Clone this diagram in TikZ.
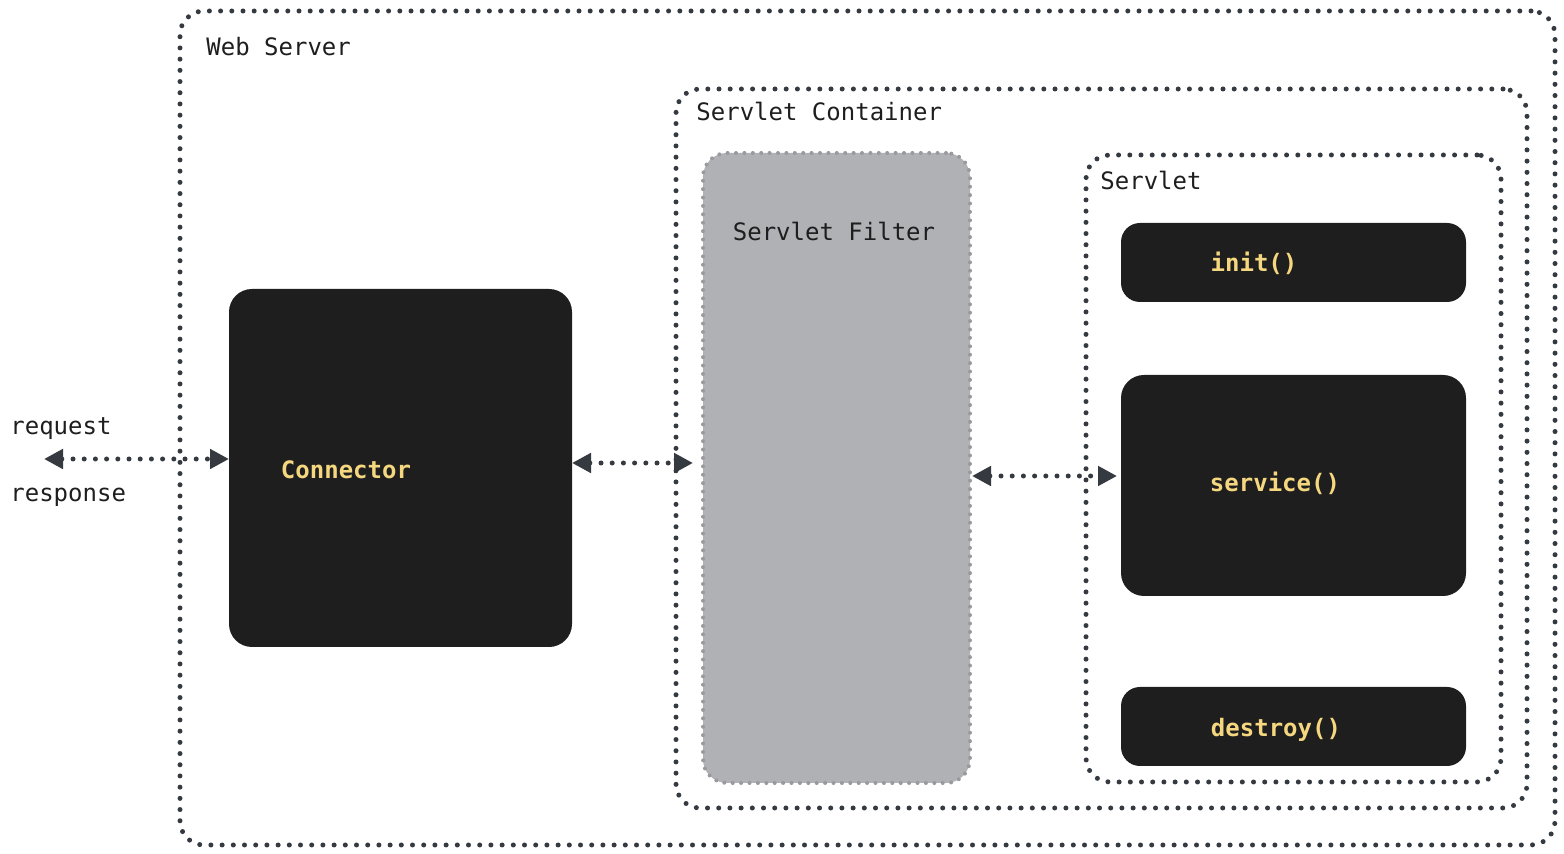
\documentclass[tikz,border=0pt]{standalone}
\usepackage{fontspec}
\setmonofont{DejaVu Sans Mono}
\usepackage{tikz}
\usetikzlibrary{arrows.meta,positioning}
\tikzset{>={Triangle[width=9.5pt,length=9.5pt]}}
\definecolor{inkdark}{HTML}{343A40}
\definecolor{boxdark}{HTML}{1E1E1E}
\definecolor{fncolor}{HTML}{F5D77F}
\definecolor{filtergray}{HTML}{B0B1B5}
\definecolor{filterline}{HTML}{9A9A9E}

\begin{document}
\begin{tikzpicture}[x=0.5pt, y=-0.5pt, font=\ttfamily\fontsize{12}{14}\selectfont]
          \tikzstyle{frame} = [draw=inkdark, line width=2.5pt, line cap=round, dash pattern=on 0pt off 5.6pt, rounded corners=12pt, inner sep=0pt]
          \tikzstyle{filterbox} = [draw=filterline, fill=filtergray, line width=2pt, line cap=round, dash pattern=on 0pt off 4.2pt, rounded corners=12pt, inner sep=0pt]
          \tikzstyle{blackbox} = [fill=boxdark, draw=boxdark, line width=1pt, rounded corners=9pt, inner sep=0pt]
          \tikzstyle{fnlabel} = [text=fncolor, font=\ttfamily\bfseries\fontsize{12}{14}\selectfont, anchor=base, inner sep=0pt]
          \tikzstyle{plainlabel} = [text=boxdark, anchor=base west, inner sep=0pt]
          \tikzstyle{flow} = [draw=inkdark, line width=2.5pt, line cap=round, dash pattern=on 0pt off 5.6pt, <->]

          \useasboundingbox (0,0) rectangle (1564,854);

          % containers
          \node[frame, minimum width=687.5pt, minimum height=417pt] (websrv) at (867.5,428) {};
          \node[frame, minimum width=425.5pt, minimum height=359.5pt] (contr) at (1101.5,448.5) {};
          \node[filterbox, minimum width=133.5pt, minimum height=315pt] (filter) at (836.5,468) {};
          \node[frame, minimum width=207.5pt, minimum height=313.5pt] (servlet) at (1293.5,468.5) {};

          \node[plainlabel] (websrvlbl) at (206,56) {Web Server};
          \node[plainlabel] (contrlbl) at (696,121) {Servlet Container};
          \node[plainlabel, anchor=base] (filterlbl) at (834,241) {Servlet Filter};
          \node[plainlabel] (servletlbl) at (1100,190) {Servlet};

          % dark boxes
          \node[blackbox, minimum width=170.5pt, minimum height=178pt, rounded corners=11pt] (conn) at (400.5,468) {};
          \node[blackbox, minimum width=171.5pt, minimum height=38.5pt] (init) at (1293.5,262.5) {};
          \node[blackbox, minimum width=171.5pt, minimum height=109.5pt, rounded corners=11pt] (svc) at (1293.5,485.5) {};
          \node[blackbox, minimum width=171.5pt, minimum height=38.5pt] (destroy) at (1293.5,726.5) {};

          \node[fnlabel] (connlbl) at (346,479) {Connector};
          \node[fnlabel] (initlbl) at (1254,272) {init()};
          \node[fnlabel] (svclbl) at (1275,492) {service()};
          \node[fnlabel] (destroylbl) at (1276,737) {destroy()};

          % client side
          \node[plainlabel] (reqlbl) at (10,435) {request};
          \node[plainlabel] (resplbl) at (10,502) {response};
          \coordinate (client) at (44,459);

          \draw[flow] (client) -- (client -| conn.west);
          \draw[flow, shorten >=4pt] ([yshift=2.5pt]conn.east) -- ([yshift=2.5pt]conn.east -| filter.west);
          \draw[flow, shorten >=2pt] ([yshift=-4pt]filter.east) -- ([yshift=-4pt]filter.east -| svc.west);
        \end{tikzpicture}
\end{document}
